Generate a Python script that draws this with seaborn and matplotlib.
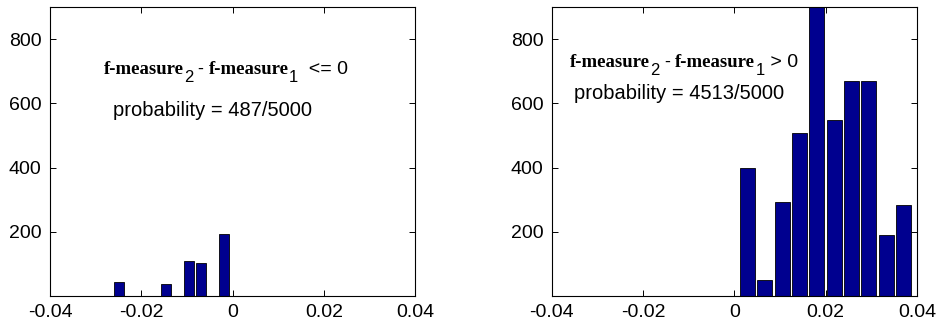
import matplotlib
matplotlib.use("Agg")
import matplotlib.pyplot as plt
import seaborn as sns

# histogram bins
neg_centers = [-0.02484, -0.0146, -0.00948, -0.00692, -0.0018]
neg_counts = [45, 36, 110, 103, 193]
pos_centers = [0.00285, 0.00665, 0.01045, 0.01425, 0.01805,
               0.02185, 0.02565, 0.02945, 0.03325, 0.03705]
pos_counts = [399, 49, 294, 509, 905, 548, 669, 669, 189, 282]

xticks = [-0.04, -0.02, 0, 0.02, 0.04]
xtick_labels = ["-0.04", "-0.02", "0", "0.02", "0.04"]
yticks = [200, 400, 600, 800]

sns.set_style("ticks", {"text.color": "black", "xtick.color": "black",
                        "ytick.color": "black", "axes.edgecolor": "black",
                        "axes.labelcolor": "black"})
plt.rcParams["font.family"] = ["Liberation Sans", "DejaVu Sans"]

bar_color = "#00008f"
sans = ["Liberation Sans", "DejaVu Sans"]
serif = ["Liberation Serif", "DejaVu Serif"]


def chained_text(ax, x, y, pieces):
    # pieces: (text, family, size, vertical shift in points)
    prev = None
    prev_shift = 0
    for s, fam, size, shift in pieces:
        if prev is None:
            prev = ax.text(x, y, s, family=fam, fontsize=size, va="bottom",
                           fontweight="bold" if fam is serif else "normal")
        else:
            prev = ax.annotate(s, xy=(1, 0), xycoords=prev,
                               xytext=(0, shift - prev_shift), textcoords="offset points",
                               va="bottom", family=fam, fontsize=size,
                               fontweight="bold" if fam is serif else "normal")
        prev_shift = shift


fig = plt.figure(figsize=(9.37, 3.29), dpi=100)
ax1 = fig.add_axes([0.0534, 0.1003, 0.3895, 0.8784])
ax2 = fig.add_axes([0.589, 0.1003, 0.3895, 0.8784])

sns.barplot(x=neg_centers, y=neg_counts, native_scale=True, width=0.86,
            color=bar_color, saturation=1, edgecolor="black", linewidth=0.6,
            errorbar=None, ax=ax1)
sns.barplot(x=pos_centers, y=pos_counts, native_scale=True, width=0.86,
            color=bar_color, saturation=1, edgecolor="black", linewidth=0.6,
            errorbar=None, ax=ax2)

for ax in (ax1, ax2):
    ax.set_xlim(-0.04, 0.04)
    ax.set_ylim(0, 900)
    ax.set_xticks(xticks)
    ax.set_xticklabels(xtick_labels)
    ax.set_yticks(yticks)
    ax.set_xlabel("")
    ax.set_ylabel("")
    ax.tick_params(direction="in", top=True, right=True, length=4,
                   width=0.7, labelsize=14, pad=6, colors="black")
    for sp in ax.spines.values():
        sp.set_visible(True)
        sp.set_linewidth(0.8)
        sp.set_color("black")

chained_text(ax1, -0.0282, 680, [
    ("f-measure", serif, 13.5, 0),
    ("2", sans, 12, -5),
    (" - ", sans, 13, 0),
    ("f-measure", serif, 13.5, 0),
    ("1", sans, 12, -5),
    ("  <= 0", sans, 14, 0),
])
ax1.text(-0.0262, 579, "probability = 487/5000", fontsize=14.5, va="center")

chained_text(ax2, -0.036, 702, [
    ("f-measure", serif, 13.5, 0),
    ("2", sans, 12, -5),
    (" - ", sans, 13, 0),
    ("f-measure", serif, 13.5, 0),
    ("1", sans, 12, -5),
    (" > 0", sans, 14, 0),
])
ax2.text(-0.0352, 632, "probability = 4513/5000", fontsize=14.5, va="center")

fig.savefig("out.png", dpi=100)
